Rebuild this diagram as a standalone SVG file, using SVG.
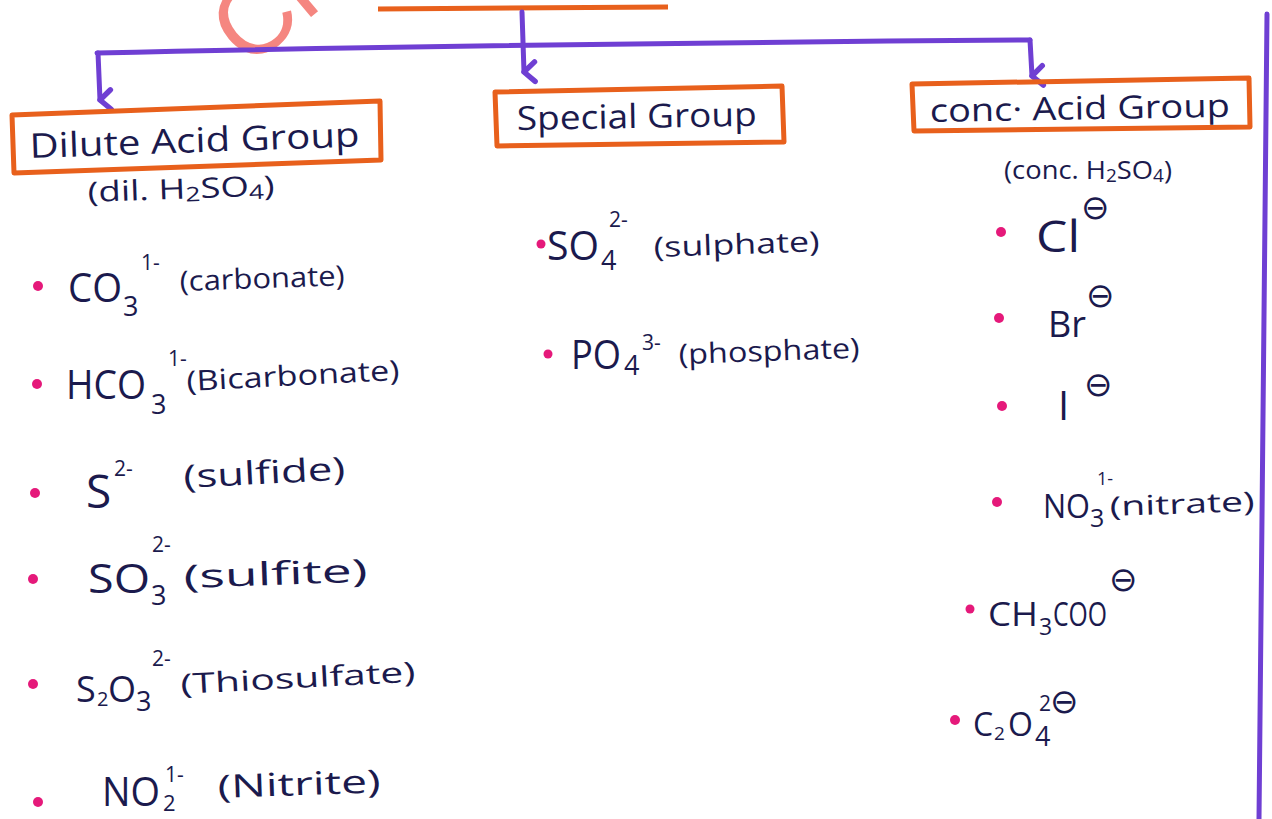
<svg xmlns="http://www.w3.org/2000/svg" width="1272" height="819" viewBox="0 0 1272 819">
<style>
.ink{fill:#1b1a4d;font-family:"Open Sans","Noto Sans",sans-serif}
.box{fill:none;stroke:#e8601c;stroke-width:5;stroke-linejoin:round}
.conn{fill:none;stroke:#6f3fd3;stroke-width:5;stroke-linecap:round}
.dot{fill:#e5197a}
.big{font-size:40px}
.sub{font-size:27px}
.sup{font-size:21px}
.name{font-size:28px}
.neg{font-family:"DejaVu Sans",sans-serif;font-size:34px;fill:#1b1a4d}
</style>
<defs>
<marker id="arr" viewBox="0 0 24 24" refX="12" refY="17" markerWidth="26" markerHeight="26" markerUnits="userSpaceOnUse" orient="auto-start-reverse">
<path d="M3,7 L12,17 L21,7" fill="none" stroke="#6f3fd3" stroke-width="5" stroke-linecap="round" stroke-linejoin="round"/>
</marker>
</defs>
<rect width="1272" height="819" fill="#ffffff"/>
<text x="248" y="70" transform="rotate(-40 248 70)" font-family="Liberation Sans, sans-serif" font-size="104" fill="#f47a73" opacity="0.9">Ch</text>
<line x1="378" y1="9" x2="668" y2="7" class="box"/>

<g id="connectors">
<path class="conn" d="M522,12 L524,72" marker-end="url(#arr)"/>
<path class="conn" d="M97,53 Q500,44 1030,40"/>
<path class="conn" d="M98,53 L100,100" marker-end="url(#arr)"/>
<path class="conn" d="M1030,40 L1032,76" marker-end="url(#arr)"/>
<path class="conn" d="M1267,14 L1259,819"/>
</g>

<g id="dilute">
<path class="box" d="M12,115 L380,101 L381,160 L14,173 Z"/>
<text class="ink" x="30" y="158" font-size="34" textLength="330" lengthAdjust="spacingAndGlyphs" transform="rotate(-2 30 158)">Dilute Acid Group</text>
<text class="ink" x="88" y="202" font-size="28" textLength="187" lengthAdjust="spacingAndGlyphs" transform="rotate(-2 88 202)">(dil. H<tspan font-size="20" dy="3">2</tspan><tspan dy="-3">SO</tspan><tspan font-size="20" dy="3">4</tspan><tspan dy="-3">)</tspan></text>
</g>

<g id="special">
<path class="box" d="M495,92 L782,86 L784,142 L497,146 Z"/>
<text class="ink" x="517" y="130" font-size="33" textLength="240" lengthAdjust="spacingAndGlyphs" transform="rotate(-1 517 130)">Special Group</text>
</g>

<g id="conc">
<path class="box" d="M912,84 L1249,78 L1250,127 L914,131 Z"/>
<text class="ink" x="930" y="122" font-size="32" textLength="300" lengthAdjust="spacingAndGlyphs" transform="rotate(-1 930 122)">conc· Acid Group</text>
<text class="ink" x="1004" y="179" font-size="26" textLength="168" lengthAdjust="spacingAndGlyphs">(conc. H<tspan font-size="18" dy="3">2</tspan><tspan dy="-3">SO</tspan><tspan font-size="18" dy="3">4</tspan><tspan dy="-3">)</tspan></text>
</g>

<g id="dilute-list">
<circle class="dot" cx="38" cy="286" r="5"/>
<text class="ink big" x="68" y="302" textLength="54" lengthAdjust="spacingAndGlyphs">CO</text>
<text class="ink sub" x="123" y="316">3</text>
<text class="ink sup" x="141" y="270">1-</text>
<text class="ink name" x="180" y="291" textLength="165" lengthAdjust="spacingAndGlyphs" transform="rotate(-2 180 291)">(carbonate)</text>

<circle class="dot" cx="37" cy="384" r="5"/>
<text class="ink big" x="66" y="399" textLength="80" lengthAdjust="spacingAndGlyphs">HCO</text>
<text class="ink sub" x="151" y="414">3</text>
<text class="ink sup" x="168" y="366">1-</text>
<text class="ink name" x="187" y="391" textLength="213" lengthAdjust="spacingAndGlyphs" transform="rotate(-3 187 391)">(Bicarbonate)</text>

<circle class="dot" cx="35" cy="493" r="5"/>
<text class="ink" x="86" y="508" font-size="46">S</text>
<text class="ink sup" x="114" y="476">2-</text>
<text class="ink" x="184" y="488" font-size="32" textLength="162" lengthAdjust="spacingAndGlyphs" transform="rotate(-3 184 488)">(sulfide)</text>

<circle class="dot" cx="33" cy="579" r="5"/>
<text class="ink big" x="88" y="593" textLength="62" lengthAdjust="spacingAndGlyphs">SO</text>
<text class="ink sub" x="151" y="605">3</text>
<text class="ink sup" x="152" y="552">2-</text>
<text class="ink" x="184" y="588" font-size="32" textLength="184" lengthAdjust="spacingAndGlyphs" transform="rotate(-2 184 588)">(sulfite)</text>

<circle class="dot" cx="33" cy="684" r="5"/>
<text class="ink" x="76" y="702" font-size="36">S</text>
<text class="ink" x="97" y="706" font-size="20">2</text>
<text class="ink" x="108" y="702" font-size="36">O</text>
<text class="ink sub" x="136" y="711">3</text>
<text class="ink sup" x="152" y="666">2-</text>
<text class="ink name" x="181" y="694" textLength="235" lengthAdjust="spacingAndGlyphs" transform="rotate(-3 181 694)">(Thiosulfate)</text>

<circle class="dot" cx="38" cy="802" r="5"/>
<text class="ink big" x="102" y="806" textLength="58" lengthAdjust="spacingAndGlyphs">NO</text>
<text class="ink" x="163" y="811" font-size="22">2</text>
<text class="ink sup" x="165" y="782">1-</text>
<text class="ink" x="218" y="798" font-size="32" textLength="163" lengthAdjust="spacingAndGlyphs" transform="rotate(-2 218 798)">(Nitrite)</text>
</g>

<g id="special-list">
<circle class="dot" cx="541" cy="244" r="4.5"/>
<text class="ink big" x="547" y="260" textLength="52" lengthAdjust="spacingAndGlyphs">SO</text>
<text class="ink sub" x="601" y="270">4</text>
<text class="ink sup" x="609" y="227">2-</text>
<text class="ink name" x="654" y="257" textLength="166" lengthAdjust="spacingAndGlyphs" transform="rotate(-2 654 257)">(sulphate)</text>

<circle class="dot" cx="548" cy="354" r="4.5"/>
<text class="ink big" x="571" y="369" textLength="50" lengthAdjust="spacingAndGlyphs">PO</text>
<text class="ink sub" x="624" y="375">4</text>
<text class="ink sup" x="642" y="350">3-</text>
<text class="ink name" x="679" y="364" textLength="181" lengthAdjust="spacingAndGlyphs" transform="rotate(-2 679 364)">(phosphate)</text>
</g>

<g id="conc-list">
<circle class="dot" cx="1001" cy="232" r="5"/>
<text class="ink" x="1036" y="252" font-size="44" textLength="44" lengthAdjust="spacingAndGlyphs">Cl</text>
<text class="neg" x="1081" y="219">⊖</text>

<circle class="dot" cx="999" cy="318" r="5"/>
<text class="ink" x="1048" y="337" font-size="36">Br</text>
<text class="neg" x="1086" y="307">⊖</text>

<circle class="dot" cx="1002" cy="406" r="5"/>
<text class="ink" x="1058" y="420" font-size="40">I</text>
<text class="neg" x="1084" y="396">⊖</text>

<circle class="dot" cx="997" cy="502" r="5"/>
<text class="ink" x="1043" y="518" font-size="32" textLength="47" lengthAdjust="spacingAndGlyphs">NO</text>
<text class="ink" x="1090" y="527" font-size="25">3</text>
<text class="ink" x="1097" y="485" font-size="18">1-</text>
<text class="ink" x="1110" y="516" font-size="27" textLength="145" lengthAdjust="spacingAndGlyphs" transform="rotate(-2 1110 516)">(nitrate)</text>

<circle class="dot" cx="970" cy="609" r="4.5"/>
<text class="ink" x="988" y="626" font-size="32" textLength="50" lengthAdjust="spacingAndGlyphs">CH</text>
<text class="ink" x="1039" y="635" font-size="23">3</text>
<text class="ink" x="1053" y="626" font-size="32" textLength="54" lengthAdjust="spacingAndGlyphs">COO</text>
<text class="neg" x="1109" y="591" font-size="26">⊖</text>

<circle class="dot" cx="955" cy="720" r="5"/>
<text class="ink" x="973" y="736" font-size="32">C</text>
<text class="ink" x="994" y="740" font-size="19">2</text>
<text class="ink" x="1008" y="736" font-size="32">O</text>
<text class="ink sub" x="1035" y="746">4</text>
<text class="ink sup" x="1039" y="711">2</text>
<text class="neg" x="1050" y="713" font-size="28">⊖</text>
</g>
</svg>
